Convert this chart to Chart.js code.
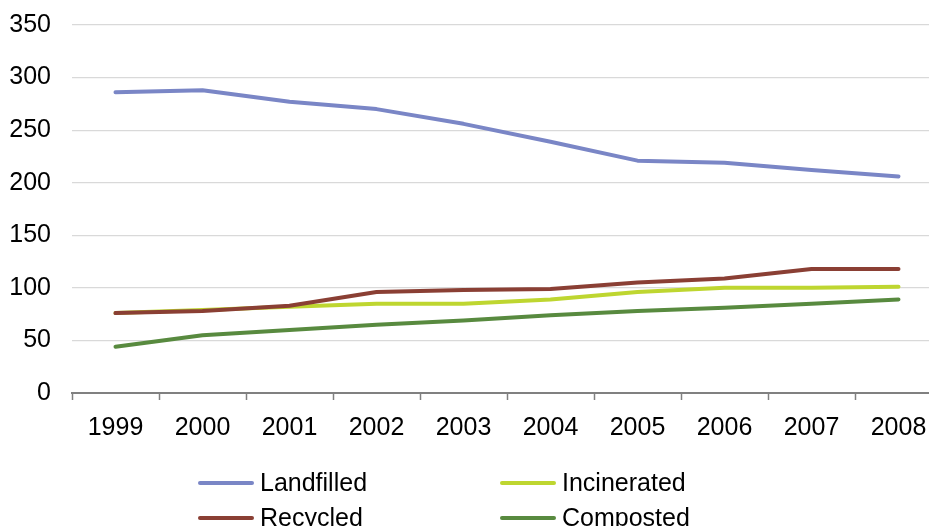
<!DOCTYPE html>
<html>
<head>
<meta charset="utf-8">
<title>Waste management 1999-2008</title>
<script src="https://cdn.jsdelivr.net/npm/chart.js@4.4.1/dist/chart.umd.min.js"></script>
<style>
    html, body { margin: 0; padding: 0; background: #fff; overflow: hidden; }
    #wrap { position: relative; width: 929px; height: 526px; overflow: hidden; }
    #chart { position: absolute; left: 0; top: 0; }
    #legend {
        position: absolute; left: 198px; top: 465px;
        display: grid; grid-template-columns: 302px 220px;
    }
    .item {
        display: flex; align-items: center; height: 35px;
        font: 25px "Liberation Sans", Arial, sans-serif; color: #000;
    }
    .swatch { width: 56px; height: 4px; border-radius: 2px; margin-right: 6px; }
</style>
</head>
<body>
<div id="wrap">
    <canvas id="chart" width="942" height="526"></canvas>
    <div id="legend"></div>
</div>
<script>
// Данные
const years = ['1999', '2000', '2001', '2002', '2003', '2004', '2005', '2006', '2007', '2008'];
const landfilled = [286, 288, 277, 270, 256, 239, 221, 219, 212, 206];
const incinerated = [76, 79, 82, 85, 85, 89, 96, 100, 100, 101];
const recycled = [76, 78, 83, 96, 98, 99, 105, 109, 118, 118];
const composted = [44, 55, 60, 65, 69, 74, 78, 81, 85, 89];
const yTicks = [0, 50, 100, 150, 200, 250, 300, 350];

const font = { family: '"Liberation Sans", Arial, sans-serif', size: 25 };

// order: меньшее значение рисуется поверх (как в Excel, последняя серия сверху)
function series(label, data, color, order) {
    return {
        label: label,
        data: data,
        order: order,
        borderColor: color,
        backgroundColor: color,
        borderWidth: 4,
        borderCapStyle: 'round',
        borderJoinStyle: 'round',
        pointRadius: 0,
        pointHoverRadius: 0,
        tension: 0,
        fill: false
    };
}

const datasets = [
    series('Landfilled', landfilled, '#7A86C6', 4),
    series('Incinerated', incinerated, '#BED630', 3),
    series('Recycled', recycled, '#8A3F34', 2),
    series('Composted', composted, '#588A3F', 1)
];

const chart = new Chart(document.getElementById('chart'), {
    type: 'line',
    data: { labels: years, datasets: datasets },
    options: {
        responsive: false,
        animation: false,
        layout: { padding: { top: 25, bottom: 85, left: 0, right: 0 } },
        plugins: {
            legend: { display: false },
            tooltip: { enabled: false }
        },
        scales: {
            x: {
                offset: true,
                afterFit: s => { s.height = 48; },
                grid: {
                    offset: true,
                    drawOnChartArea: false,
                    drawTicks: true,
                    tickLength: 7,
                    tickWidth: 1.5,
                    tickColor: '#808080'
                },
                border: { display: true, color: '#808080', width: 2 },
                ticks: { color: '#000', font: font, padding: 13, maxRotation: 0, autoSkip: false }
            },
            y: {
                min: 0,
                max: 350,
                // ширина оси фиксирована, отступ подписей не должен сдвигать верх графика
                afterFit: s => { s.width = 72; s.paddingTop = 15; s.paddingBottom = 15; },
                afterBuildTicks: s => { s.ticks = yTicks.map(v => ({ value: v })); },
                grid: { color: '#D9D9D9', lineWidth: 1.2, drawTicks: false },
                border: { display: false },
                ticks: { color: '#000', font: font, padding: 21 }
            }
        }
    }
});

// Легенда в две колонки (порядок как в массиве данных)
document.getElementById('legend').innerHTML = datasets.map(ds =>
    `<div class="item"><span class="swatch" style="background:${ds.borderColor}"></span>${ds.label}</div>`
).join('');
</script>
</body>
</html>
